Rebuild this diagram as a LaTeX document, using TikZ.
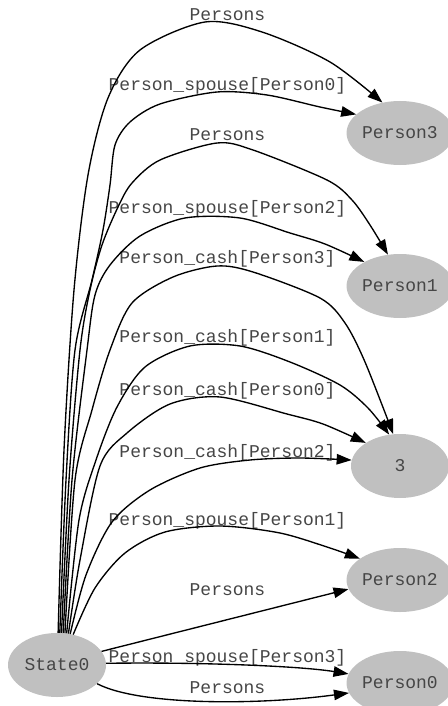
\documentclass[tikz,border=0pt]{standalone}
\usepackage{fontspec}
\setmonofont{Liberation Mono}
\usetikzlibrary{arrows.meta,shapes.geometric}
\definecolor{nodegray}{RGB}{192,192,192}
\definecolor{txt}{RGB}{70,70,70}
\begin{document}
\begin{tikzpicture}[x=1pt,y=-1pt,
  every node/.style={font=\ttfamily\fontsize{18}{20}\selectfont, text=txt},
  state/.style={ellipse, fill=nodegray, minimum width=98pt, minimum height=64pt, inner sep=0pt},
  lbl/.style={anchor=base, inner sep=0pt},
  conn/.style={draw=black, line width=1.35pt, -{Triangle[length=15pt,width=10.5pt]}}]
\useasboundingbox (0,0) rectangle (447,706);

% atoms
\node[state] (s0) at (57,665) {State0};
\node[state] (p3) at (400,133) {Person3};
\node[state] (p1) at (400,286) {Person1};
\node[state] (n3) at (400,466) {3};
\node[state] (p2) at (400,580) {Person2};
\node[state] (p0) at (400,683) {Person0};

% relation labels
\node[lbl] (l1)  at (227.5,21)  {Persons};
\node[lbl] (l2)  at (227.5,91)  {Person\_spouse[Person0]};
\node[lbl] (l3)  at (227.5,140) {Persons};
\node[lbl] (l4)  at (227.5,213) {Person\_spouse[Person2]};
\node[lbl] (l5)  at (227.5,263) {Person\_cash[Person3]};
\node[lbl] (l6)  at (227.5,342) {Person\_cash[Person1]};
\node[lbl] (l7)  at (227.5,395) {Person\_cash[Person0]};
\node[lbl] (l8)  at (227.5,457) {Person\_cash[Person2]};
\node[lbl] (l9)  at (227.5,525) {Person\_spouse[Person1]};
\node[lbl] (l10) at (227.5,595) {Persons};
\node[lbl] (l11) at (227.5,662) {Person\_spouse[Person3]};
\node[lbl] (l12) at (227.5,693) {Persons};

% tuples
\draw[conn] plot[smooth] coordinates {(s0.88) (64,450) (74,290) (88,175) (108,98) (140,50) (205,22) (262,32) (330,62) (p3.120)};
\draw[conn] plot[smooth] coordinates {(s0.85) (66,480) (75,350) (92,280) (103,230) (110,185) (115,145) (130,122) (160,104) (217,92) (267,95) (320,107) (p3.157)};
\draw[conn] plot[smooth] coordinates {(s0.82) (69,480) (80,350) (90,290) (102,245) (118,207) (132,183) (160,160) (217,143) (253,150) (327,180) (352,200) (370,225) (p1.111)};
\draw[conn] plot[smooth] coordinates {(s0.79) (72,480) (87,350) (95,295) (110,265) (140,236) (185,218) (240,218) (290,233) (325,244) (p1.146)};
\draw[conn] plot[smooth] coordinates {(s0.76) (75,480) (92,410) (110,350) (132,303) (173,277) (217,266) (253,272) (320,298) (345,323) (365,362) (n3.102)};
\draw[conn] plot[smooth] coordinates {(s0.73) (79,520) (96,460) (117,407) (145,367) (190,346) (240,346) (290,362) (340,385) (368,408) (n3.109)};
\draw[conn] plot[smooth] coordinates {(s0.70) (80,560) (100,466) (127,433) (170,404) (220,397) (287,414) (323,424) (n3.146)};
\draw[conn] plot[smooth] coordinates {(s0.67) (86,575) (112,522) (150,490) (200,468) (250,460) (300,458) (n3.173)};
\draw[conn] plot[smooth] coordinates {(s0.62) (95,588) (125,553) (165,532) (220,526) (280,533) (330,548) (p2.152)};
\draw[conn] (s0.17) -- (p2.190);
\draw[conn] (s0.2) .. controls (200,662) and (300,666) .. (p0.170);
\draw[conn] (s0.335) .. controls (140,706) and (260,705) .. (p0.191);
\end{tikzpicture}
\end{document}
